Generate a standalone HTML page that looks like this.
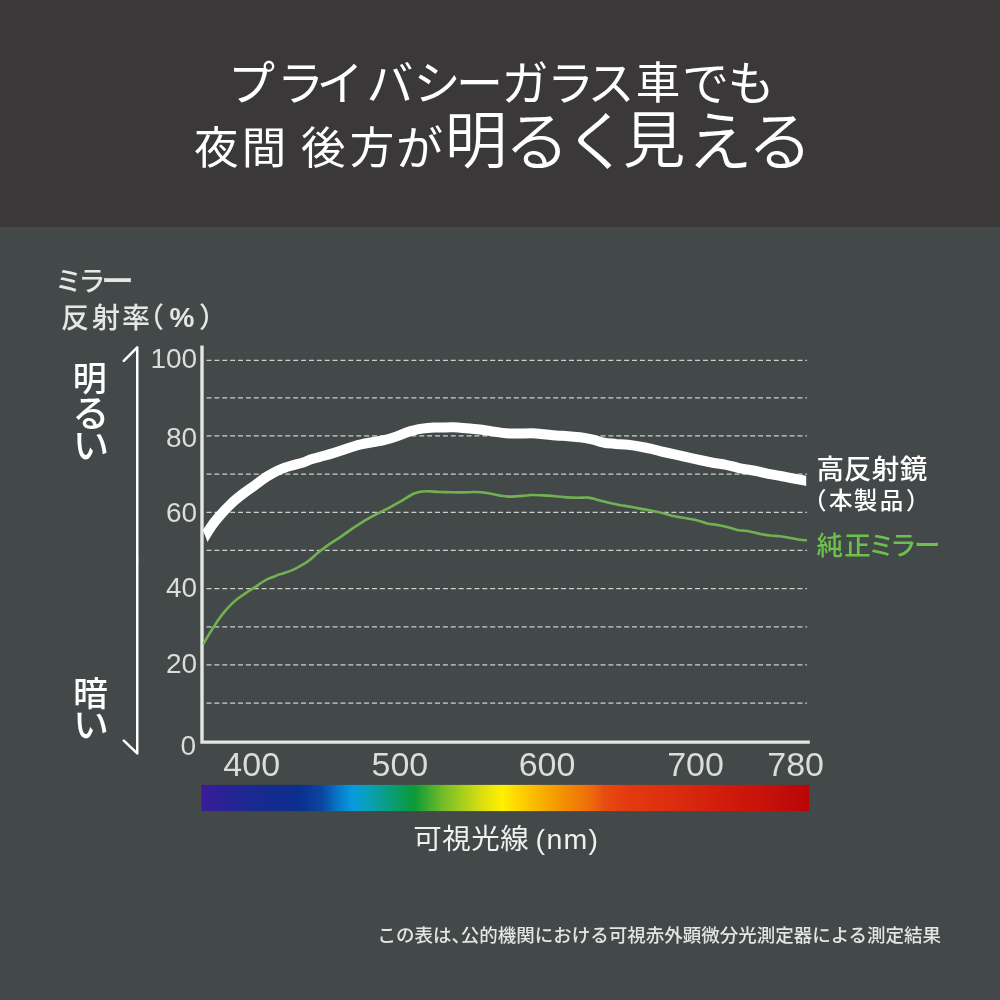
<!DOCTYPE html>
<html lang="ja">
<head>
<meta charset="utf-8">
<title>プライバシーガラス車でも夜間 後方が明るく見える</title>
<style>
html,body{margin:0;padding:0;background:#434849;}
body{width:1000px;height:1000px;overflow:hidden;position:relative;font-family:"Liberation Sans","Noto Sans CJK JP",sans-serif;}
svg{position:absolute;left:0;top:0;display:block;}
text{font-family:"Liberation Sans","Noto Sans CJK JP",sans-serif;}
.jp{font-family:"Noto Sans CJK JP","Liberation Sans",sans-serif;}
</style>
</head>
<body>
<svg width="1000" height="1000" viewBox="0 0 1000 1000">
<defs>
<linearGradient id="spec" x1="0" y1="0" x2="1" y2="0">
<stop offset="0" stop-color="#3c1a98"/>
<stop offset="0.03" stop-color="#2c2196"/>
<stop offset="0.077" stop-color="#1c2890"/>
<stop offset="0.16" stop-color="#0b2f8c"/>
<stop offset="0.198" stop-color="#0a46a0"/>
<stop offset="0.225" stop-color="#0878c8"/>
<stop offset="0.248" stop-color="#089ade"/>
<stop offset="0.274" stop-color="#0aa0b8"/>
<stop offset="0.307" stop-color="#0a9e80"/>
<stop offset="0.35" stop-color="#0a9a38"/>
<stop offset="0.40" stop-color="#78be28"/>
<stop offset="0.463" stop-color="#dce010"/>
<stop offset="0.495" stop-color="#fff000"/>
<stop offset="0.538" stop-color="#fcc400"/>
<stop offset="0.588" stop-color="#f49600"/>
<stop offset="0.641" stop-color="#ee6a0c"/>
<stop offset="0.663" stop-color="#e84c10"/>
<stop offset="0.70" stop-color="#e43a10"/>
<stop offset="0.78" stop-color="#dc2c0e"/>
<stop offset="0.86" stop-color="#d01c0c"/>
<stop offset="0.94" stop-color="#c41008"/>
<stop offset="1" stop-color="#b80608"/>
</linearGradient>
<clipPath id="plot"><polygon points="199.3,520.8 210.9,550.6 806.2,550.6 806.2,400 199.3,400"/></clipPath>
</defs>
<rect x="0" y="0" width="1000" height="1000" fill="#434849"/>
<rect x="0" y="0" width="1000" height="227" fill="#3a3839"/>

<!-- title -->
<g class="jp" fill="#ffffff" font-weight="400" text-anchor="middle">
<text y="100" font-size="47" x="251.5 300.5 340 390 437 479.5 525 570.5 611 658 705.5 751">プライバシーガラス<tspan font-size="44.5" dy="-1.5">車</tspan><tspan dy="1.5">でも</tspan></text>
<text y="164.2" font-size="44.5" x="216.3 264 293 323.2 372 419.5 476 537 597 654 720 780">夜間 後方<tspan font-size="47" dy="1">が</tspan><tspan font-size="62.5" font-weight="350" dy="-2.2">明</tspan><tspan font-size="65" font-weight="350" dy="1.6">るく</tspan><tspan font-size="62.5" font-weight="350" dy="-1.6">見</tspan><tspan font-size="65" font-weight="350" dy="1.6">える</tspan></text>
</g>

<!-- axis titles -->
<g class="jp" fill="#e6e7e3" font-weight="500" text-anchor="middle">
<text y="290.5" font-size="27" x="68.5 92 117.4">ミラ<tspan font-size="33" dy="2.1">ー</tspan></text>
<text y="328" font-size="28" x="75 106 136 150 182 213">反射率（<tspan font-size="28" font-weight="700" dy="-0.8" font-family="Liberation Sans, sans-serif">%</tspan><tspan dy="0.8">）</tspan></text>
</g>

<!-- grid -->
<g stroke="#cdcfcb" stroke-width="1.35" stroke-dasharray="5 2.88" fill="none">
<line x1="206.5" y1="360.3" x2="807" y2="360.3"/>
<line x1="206.5" y1="397.8" x2="807" y2="397.8"/>
<line x1="206.5" y1="435.9" x2="807" y2="435.9"/>
<line x1="206.5" y1="474.1" x2="807" y2="474.1"/>
<line x1="206.5" y1="512.3" x2="807" y2="512.3"/>
<line x1="206.5" y1="550.4" x2="807" y2="550.4"/>
<line x1="206.5" y1="588.6" x2="807" y2="588.6"/>
<line x1="206.5" y1="626.8" x2="807" y2="626.8"/>
<line x1="206.5" y1="664.9" x2="807" y2="664.9"/>
<line x1="206.5" y1="703.1" x2="807" y2="703.1"/>
</g>
<!-- axes -->
<path d="M202 345.6 V742.1 H809.8" fill="none" stroke="#e3e6e1" stroke-width="3.4"/>

<!-- y labels -->
<g fill="#dcddd9" font-size="28" text-anchor="end">
<text x="197.2" y="368">100</text>
<text x="197.2" y="447.3">80</text>
<text x="197.2" y="522.2">60</text>
<text x="197.2" y="597.4">40</text>
<text x="197.2" y="673.4">20</text>
<text x="196" y="754.5">0</text>
</g>
<!-- x labels -->
<g fill="#dcddd9" font-size="34" text-anchor="middle">
<text x="251.7" y="775.8">400</text>
<text x="399.9" y="775.8">500</text>
<text x="547" y="775.8">600</text>
<text x="695.5" y="775.8">700</text>
<text x="795.6" y="775.8">780</text>
</g>

<!-- arrows -->
<g stroke="#ffffff" stroke-width="2.5" fill="none" stroke-linejoin="round" stroke-linecap="round">
<path d="M123.8 360.8 L137.25 347.4 V560"/>
<path d="M137.25 560 V753.4 L123.8 740.6"/>
</g>
<g class="jp" fill="#ffffff" font-weight="500" text-anchor="middle">
<text font-size="34" x="89.7 90.8 91" y="391.3 427.4 458.6">明<tspan font-size="37">る</tspan><tspan font-size="36">い</tspan></text>
<text font-size="34.5" x="90.5 91" y="706.3 738.3">暗<tspan font-size="35.5">い</tspan></text>
</g>

<!-- curves -->
<path id="green" fill="none" stroke="#72b152" stroke-width="2.6" stroke-linejoin="round" d="M203.4 644.2 C204.0 643.1 205.4 640.3 207.0 637.6 C208.6 634.9 211.0 631.1 213.0 628.0 C215.0 624.9 217.0 621.8 219.0 619.0 C221.0 616.2 223.0 613.6 225.0 611.2 C227.0 608.8 229.0 606.6 231.0 604.6 C233.0 602.6 235.0 600.8 237.0 599.2 C239.0 597.6 241.0 596.4 243.0 595.0 C245.0 593.6 247.0 592.1 249.0 590.8 C251.0 589.5 253.0 588.5 255.0 587.2 C257.0 585.9 259.0 584.3 261.0 583.0 C263.0 581.7 265.0 580.4 267.0 579.4 C269.0 578.4 271.0 577.8 273.0 577.0 C275.0 576.2 277.0 575.3 279.0 574.6 C281.0 573.9 283.0 573.5 285.0 572.8 C287.0 572.1 289.0 571.4 291.0 570.6 C293.0 569.8 295.0 568.8 297.0 567.8 C299.0 566.8 301.0 565.6 303.0 564.4 C305.0 563.2 306.7 562.4 309.0 560.6 C311.3 558.8 313.7 556.3 317.0 553.6 C320.3 550.9 325.0 547.2 329.0 544.4 C333.0 541.6 337.0 539.3 341.0 536.6 C345.0 533.9 349.0 530.9 353.0 528.2 C357.0 525.5 361.0 522.8 365.0 520.4 C369.0 518.0 373.0 515.9 377.0 513.8 C381.0 511.7 385.0 509.9 389.0 507.8 C393.0 505.7 397.0 503.5 401.0 501.2 C405.0 498.9 410.0 495.5 413.0 494.0 C416.0 492.5 416.7 492.5 419.0 492.0 C421.3 491.5 423.7 491.2 427.0 491.2 C430.3 491.2 435.0 491.8 439.0 492.0 C443.0 492.2 447.0 492.1 451.0 492.2 C455.0 492.3 459.0 492.4 463.0 492.4 C467.0 492.4 471.0 491.9 475.0 492.0 C479.0 492.1 483.0 492.4 487.0 493.0 C491.0 493.6 495.4 494.8 499.0 495.4 C502.6 496.0 504.6 496.5 508.6 496.6 C512.6 496.7 519.3 496.2 523.0 495.9 C526.7 495.6 527.7 495.1 531.0 495.0 C534.3 494.9 539.0 495.2 543.0 495.4 C547.0 495.6 551.0 495.9 555.0 496.2 C559.0 496.5 563.0 497.1 567.0 497.4 C571.0 497.7 575.4 497.8 579.0 497.8 C582.6 497.8 585.6 497.3 588.6 497.6 C591.6 497.9 593.6 498.9 597.0 499.8 C600.4 500.7 605.0 501.9 609.0 502.8 C613.0 503.7 617.0 504.4 621.0 505.2 C625.0 505.9 628.7 506.5 633.0 507.3 C637.3 508.1 642.7 509.1 647.0 509.9 C651.3 510.7 655.0 511.3 659.0 512.2 C663.0 513.1 667.0 514.5 671.0 515.4 C675.0 516.3 679.0 517.1 683.0 517.8 C687.0 518.5 691.0 518.9 695.0 519.8 C699.0 520.7 703.0 522.5 707.0 523.4 C711.0 524.3 715.0 524.4 719.0 525.2 C723.0 526.0 728.0 527.2 731.0 528.0 C734.0 528.8 735.0 529.6 737.0 530.0 C739.0 530.4 740.8 530.4 743.0 530.6 C745.2 530.8 747.2 530.8 750.0 531.4 C752.8 532.0 756.7 533.3 760.0 534.0 C763.3 534.7 766.7 535.1 770.0 535.5 C773.3 535.9 776.7 535.9 780.0 536.3 C783.3 536.7 786.7 537.4 790.0 538.0 C793.3 538.6 797.2 539.3 800.0 539.7 C802.8 540.1 805.8 540.2 807.0 540.3"/>
<path id="white" fill="none" stroke="#ffffff" stroke-width="10" stroke-linejoin="round" clip-path="url(#plot)" d="M198.5 548.0 C199.6 546.1 202.4 540.6 204.8 536.6 C207.2 532.6 210.6 527.3 213.0 524.0 C215.4 520.7 216.0 520.0 219.0 516.6 C222.0 513.2 227.0 507.6 231.0 503.8 C235.0 500.0 239.0 496.9 243.0 493.8 C247.0 490.7 251.0 488.1 255.0 485.2 C259.0 482.3 263.0 479.1 267.0 476.6 C271.0 474.1 275.0 471.8 279.0 470.0 C283.0 468.2 287.0 467.0 291.0 465.8 C295.0 464.6 299.5 463.7 303.0 462.6 C306.5 461.5 308.5 460.1 312.0 459.0 C315.5 457.9 320.0 456.9 324.0 455.8 C328.0 454.7 332.0 453.5 336.0 452.2 C340.0 450.9 344.0 449.5 348.0 448.2 C352.0 446.9 356.0 445.6 360.0 444.6 C364.0 443.6 368.0 442.9 372.0 442.2 C376.0 441.5 380.0 441.1 384.0 440.2 C388.0 439.3 392.0 438.0 396.0 436.6 C400.0 435.2 404.8 433.1 408.0 432.0 C411.2 430.9 412.7 430.6 415.0 430.0 C417.3 429.4 418.8 429.0 422.0 428.6 C425.2 428.2 430.0 427.8 434.0 427.6 C438.0 427.4 442.0 427.4 446.0 427.4 C450.0 427.4 454.0 427.2 458.0 427.4 C462.0 427.6 466.0 428.0 470.0 428.4 C474.0 428.8 478.0 429.2 482.0 429.7 C486.0 430.2 490.0 431.0 494.0 431.6 C498.0 432.2 502.0 433.0 506.0 433.3 C510.0 433.6 513.7 433.6 518.0 433.6 C522.3 433.6 527.7 433.1 532.0 433.2 C536.3 433.3 540.0 433.8 544.0 434.2 C548.0 434.6 552.0 435.2 556.0 435.5 C560.0 435.8 564.0 435.9 568.0 436.2 C572.0 436.5 576.0 436.7 580.0 437.2 C584.0 437.7 588.0 438.5 592.0 439.4 C596.0 440.3 600.0 441.9 604.0 442.7 C608.0 443.4 612.0 443.5 616.0 443.9 C620.0 444.2 623.7 444.3 628.0 444.8 C632.3 445.3 637.7 446.2 642.0 447.0 C646.3 447.8 650.0 448.7 654.0 449.6 C658.0 450.5 662.0 451.6 666.0 452.5 C670.0 453.4 674.0 454.3 678.0 455.2 C682.0 456.1 686.0 456.9 690.0 457.8 C694.0 458.7 698.0 459.6 702.0 460.5 C706.0 461.4 710.0 462.3 714.0 463.0 C718.0 463.7 722.0 464.0 726.0 464.8 C730.0 465.6 734.0 466.9 738.0 467.8 C742.0 468.7 746.7 469.4 750.0 470.0 C753.3 470.6 754.7 470.7 758.0 471.4 C761.3 472.1 766.0 473.4 770.0 474.2 C774.0 475.0 778.0 475.5 782.0 476.2 C786.0 476.9 790.0 477.8 794.0 478.6 C798.0 479.4 803.0 480.2 806.0 480.8 C809.0 481.4 811.0 481.7 812.0 481.9"/>

<!-- legend -->
<g class="jp" text-anchor="middle" font-weight="500">
<text y="478.5" font-size="27.5" fill="#ffffff" x="830.2 857.8 885.6 913.4">高反射鏡</text>
<text y="509" font-size="23.5" fill="#ffffff" x="814.7 840.8 865.6 891.5 917.8">（本製品）</text>
<text y="555" font-size="26.5" fill="#6cc04c" x="829.8 857.6 881.2 903.2 927.2">純正ミラー</text>
</g>

<!-- spectrum -->
<rect x="201.5" y="784.9" width="607.7" height="26.2" fill="url(#spec)"/>
<text fill="#f0f0ee" font-size="28.5" y="849" x="413.25 442.35 471.15 500.15 528 535.6"><tspan class="jp">可視光線</tspan> <tspan letter-spacing="1.3">(nm)</tspan></text>

<!-- footnote -->
<text class="jp" x="377.4" y="942" font-size="18.5" font-weight="500" fill="#e4e5e2">この表は、<tspan dx="-9.25">公</tspan>的機関における可視赤外顕微分光測定器による測定結果</text>
</svg>
</body>
</html>
